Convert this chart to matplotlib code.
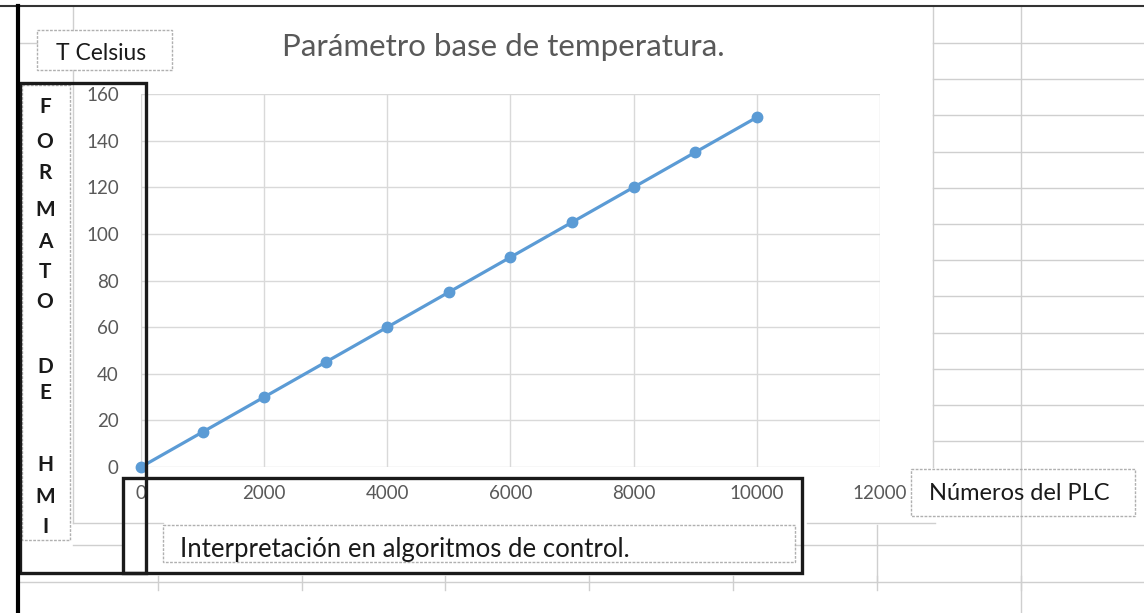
import numpy as np
import matplotlib.pyplot as plt
from matplotlib.patches import Rectangle

# datos de la grafica (numeros del PLC vs temperatura)
plc = [0, 1000, 2000, 3000, 4000, 5000, 6000, 7000, 8000, 9000, 10000]
temp = [0, 15, 30, 45, 60, 75, 90, 105, 120, 135, 150]
xticks = [0, 2000, 4000, 6000, 8000, 10000, 12000]
yticks = [0, 20, 40, 60, 80, 100, 120, 140, 160]
letras = ["F", "O", "R", "M", "A", "T", "O", "D", "E", "H", "M", "I"]
letras_y = [107, 142, 173, 210, 242, 272, 302, 367, 393, 465, 497, 527]

W, H = 1144, 613
plt.rcParams['font.family'] = ['Lato', 'DejaVu Sans']
fig = plt.figure(figsize=(W / 100, H / 100), dpi=100)

# fondo: lineas de la hoja de calculo
bg = fig.add_axes([0, 0, 1, 1])
bg.set_xlim(0, W)
bg.set_ylim(H, 0)
bg.axis('off')
gris = '#cfcfcf'
bg.plot([933, 933], [6, 467], color=gris, lw=1)
bg.plot([1021, 1021], [6, 613], color=gris, lw=1)
for k in range(12):
    yy = 43 + 36.2 * k
    bg.plot([933, W], [yy, yy], color=gris, lw=1)
bg.plot([18, 37], [43, 43], color=gris, lw=1)
bg.plot([73, 73], [6, 30], color=gris, lw=1)
bg.plot([73, 73], [70, 523], color=gris, lw=1)
bg.plot([73, 163], [523, 523], color=gris, lw=1)
bg.plot([807, 935], [523, 523], color=gris, lw=1)
bg.plot([795, W], [545, 545], color=gris, lw=1)
bg.plot([73, 123], [545, 545], color=gris, lw=1)
bg.plot([18, W], [582, 582], color=gris, lw=1)
for cx in [158, 302, 445, 589, 733, 877, 1021]:
    bg.plot([cx, cx], [576, 590], color=gris, lw=1)
bg.plot([877, 877], [525, 582], color=gris, lw=1)

# grafica principal
x0, x1, y0, y1 = 141, 880, 467, 94
ax = fig.add_axes([x0 / W, 1 - y0 / H, (x1 - x0) / W, (y0 - y1) / H])
ax.patch.set_alpha(0)
ax.plot(plc, temp, color='#5b9bd5', lw=2.3, marker='o', ms=7.5, clip_on=False, zorder=3)
ax.set_xlim(0, 12000)
ax.set_ylim(0, 160)
ax.set_xticks(xticks)
ax.set_yticks(yticks)
ax.grid(True, color='#d9d9d9', lw=1)
for s in ax.spines.values():
    s.set_visible(False)
ax.tick_params(length=0, labelsize=13.5, labelcolor='#595959')
ax.tick_params(axis='x', pad=13)
ax.tick_params(axis='y', pad=16)

# capa superior: cuadros de texto y marcos negros
fg = fig.add_axes([0, 0, 1, 1])
fg.set_xlim(0, W)
fg.set_ylim(H, 0)
fg.axis('off')
fg.patch.set_alpha(0)

fg.plot([0, W], [6, 6], color='#333333', lw=1.5)
fg.plot([18, 18], [6, H], color='black', lw=3)

def caja(xa, ya, xb, yb, color='#b0b0b0', lw=1, ls=(0, (2, 1))):
    fg.add_patch(Rectangle((xa, ya), xb - xa, yb - ya, fill=False,
                           ec=color, lw=lw, ls=ls))

caja(37, 30, 172, 70)
caja(22, 85, 70, 540)
caja(163, 525, 795, 562)
caja(911, 469, 1135, 516)
caja(20, 83, 146, 573, color='#1a1a1a', lw=2.4, ls='-')
caja(123, 478, 802, 573, color='#1a1a1a', lw=2.4, ls='-')

fg.text(503, 47, 'Parámetro base de temperatura.', fontsize=22.5, color='#595959',
        ha='center', va='center')
fg.text(101, 53, 'T Celsius', fontsize=16.5, color='#1a1a1a', ha='center', va='center')
fg.text(1019, 493, 'Números del PLC', fontsize=17, color='#1a1a1a', ha='center', va='center')
fg.text(180, 549, 'Interpretación en algoritmos de control.', fontsize=18.5,
        color='#1a1a1a', ha='left', va='center')
for l, ly in zip(letras, letras_y):
    fg.text(45, ly, l, fontsize=15, color='#1a1a1a', ha='center', va='center',
            fontweight='bold')

fig.savefig('out.png', dpi=100)
